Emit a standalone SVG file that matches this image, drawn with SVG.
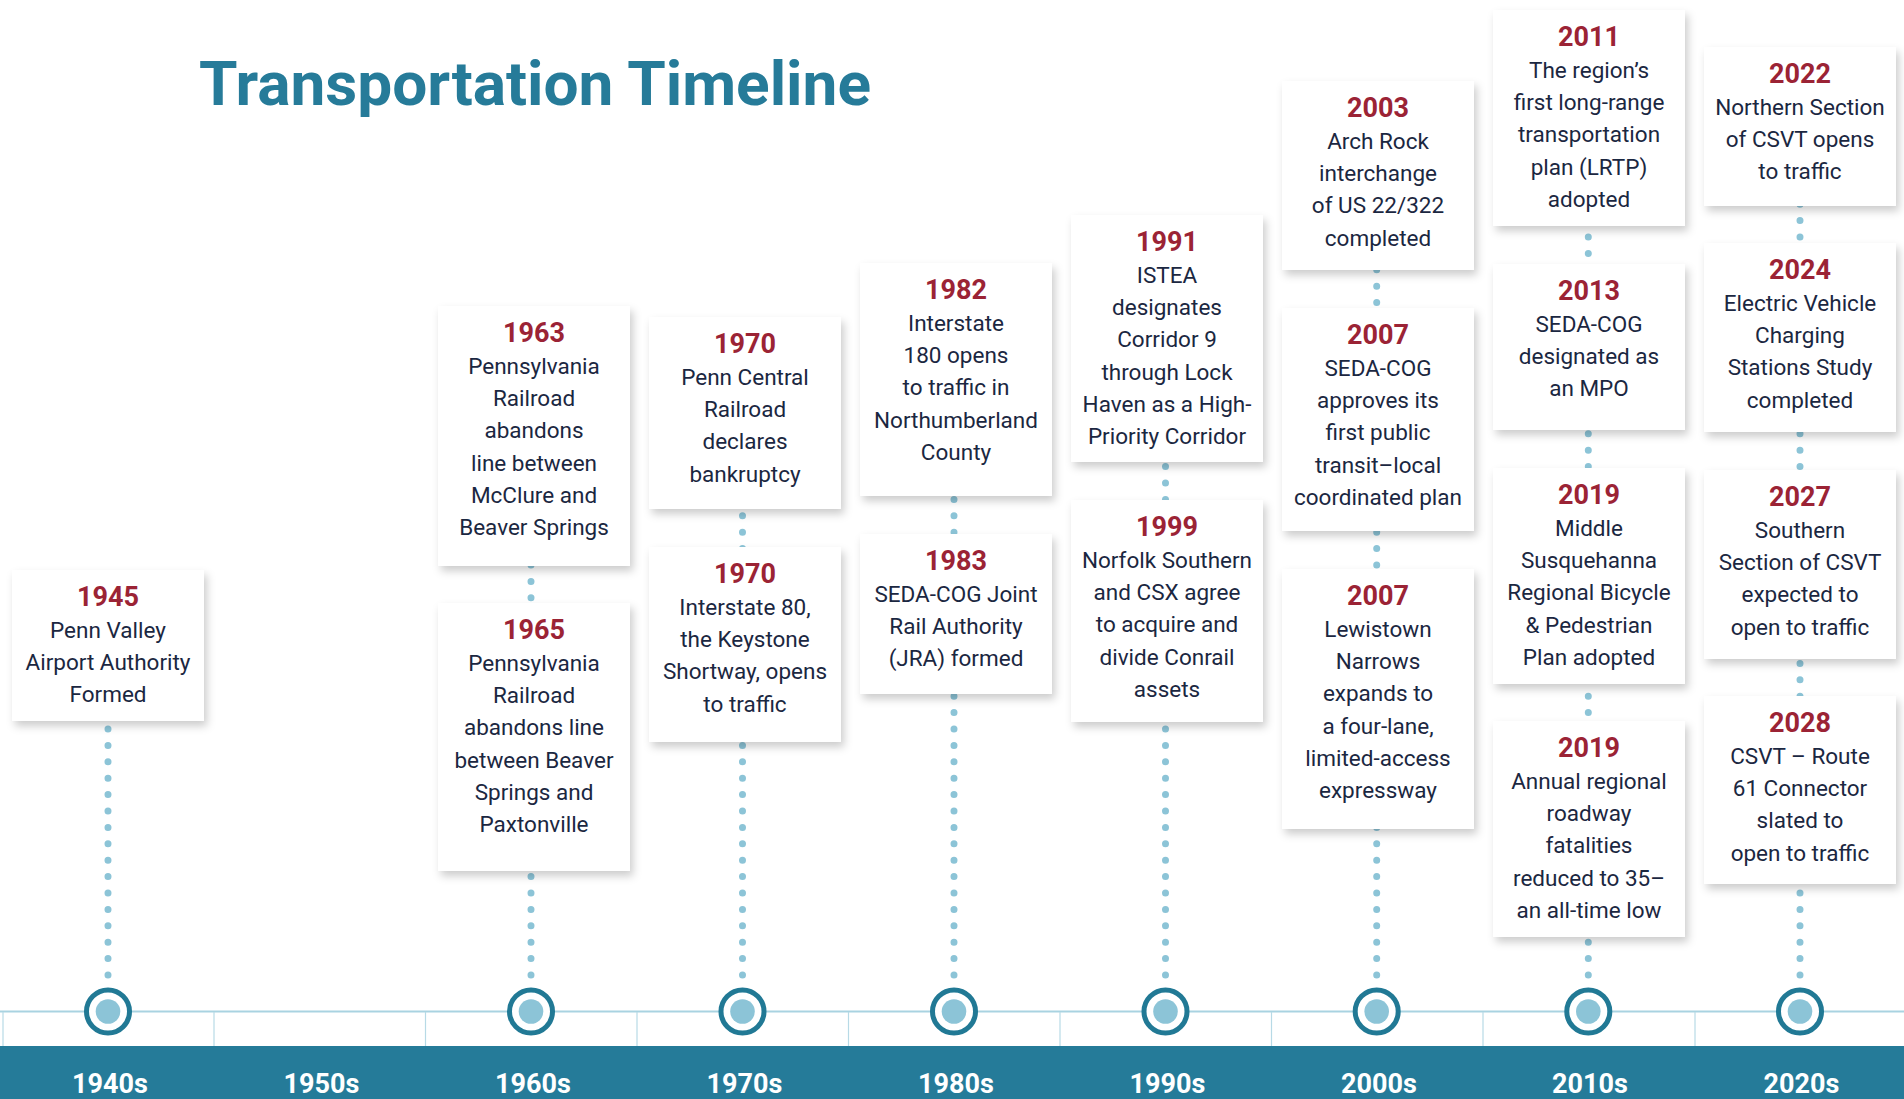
<svg xmlns="http://www.w3.org/2000/svg" width="1904" height="1099" viewBox="0 0 1904 1099">
<style>
.title{font-family:Roboto,"Liberation Sans",sans-serif;font-weight:700;font-size:61px;fill:#267b99}
.box{fill:#fff;filter:url(#sh)}
.yr{font-family:Roboto,"Liberation Sans",sans-serif;font-weight:700;font-size:27px;fill:#9b2335;text-anchor:middle}
.tx{font-family:Roboto,"Liberation Sans",sans-serif;font-size:22.5px;fill:#1b2741;text-anchor:middle}
.dot{fill:none;stroke:#8cc4d7;stroke-width:7;stroke-linecap:round;stroke-dasharray:0 16.4}
.ring{fill:#fff;stroke:#217995;stroke-width:5}
.core{fill:#8cc4d7}
.sep{stroke:#b7dae6;stroke-width:1.2}
.dec{font-family:Roboto,"Liberation Sans",sans-serif;font-weight:700;font-size:27px;fill:#fff;text-anchor:middle}
</style>
<defs>
<filter id="sh" x="-20%" y="-20%" width="140%" height="140%">
<feDropShadow dx="3" dy="5" stdDeviation="4" flood-color="#000" flood-opacity="0.2"/>
</filter>
</defs>
<rect width="1904" height="1099" fill="#fff"/>
<text class="title" x="199" y="105" textLength="672" lengthAdjust="spacingAndGlyphs">Transportation Timeline</text>

<g id="axis">
<line x1="0" y1="1011.5" x2="1904" y2="1011.5" stroke="#a9d3e1" stroke-width="2"/>
<g class="sep">
<line x1="3" y1="1012" x2="3" y2="1046"/>
<line x1="214" y1="1012" x2="214" y2="1046"/>
<line x1="425.5" y1="1012" x2="425.5" y2="1046"/>
<line x1="637" y1="1012" x2="637" y2="1046"/>
<line x1="848.5" y1="1012" x2="848.5" y2="1046"/>
<line x1="1060" y1="1012" x2="1060" y2="1046"/>
<line x1="1271.5" y1="1012" x2="1271.5" y2="1046"/>
<line x1="1483" y1="1012" x2="1483" y2="1046"/>
<line x1="1695" y1="1012" x2="1695" y2="1046"/>
</g>
<rect x="0" y="1046" width="1904" height="53" fill="#257b99"/>
<text class="dec" x="110" y="1093">1940s</text>
<text class="dec" x="321.5" y="1093">1950s</text>
<text class="dec" x="533" y="1093">1960s</text>
<text class="dec" x="744.5" y="1093">1970s</text>
<text class="dec" x="956" y="1093">1980s</text>
<text class="dec" x="1167.5" y="1093">1990s</text>
<text class="dec" x="1379" y="1093">2000s</text>
<text class="dec" x="1590" y="1093">2010s</text>
<text class="dec" x="1801.5" y="1093">2020s</text>
</g>

<g id="connectors">
<path class="dot" d="M108 975V580"/>
<path class="dot" d="M531 975V316"/>
<path class="dot" d="M742.5 975V327"/>
<path class="dot" d="M954 975V273"/>
<path class="dot" d="M1165.5 975V225"/>
<path class="dot" d="M1376.7 975V91"/>
<path class="dot" d="M1588.3 975V20"/>
<path class="dot" d="M1800 975V57"/>
</g>

<g id="markers">
<g id="m1940"><circle class="ring" cx="108" cy="1011.5" r="21.5"/><circle class="core" cx="108" cy="1011.5" r="12.3"/></g>
<g id="m1960"><circle class="ring" cx="531" cy="1011.5" r="21.5"/><circle class="core" cx="531" cy="1011.5" r="12.3"/></g>
<g id="m1970"><circle class="ring" cx="742.5" cy="1011.5" r="21.5"/><circle class="core" cx="742.5" cy="1011.5" r="12.3"/></g>
<g id="m1980"><circle class="ring" cx="954" cy="1011.5" r="21.5"/><circle class="core" cx="954" cy="1011.5" r="12.3"/></g>
<g id="m1990"><circle class="ring" cx="1165.5" cy="1011.5" r="21.5"/><circle class="core" cx="1165.5" cy="1011.5" r="12.3"/></g>
<g id="m2000"><circle class="ring" cx="1376.7" cy="1011.5" r="21.5"/><circle class="core" cx="1376.7" cy="1011.5" r="12.3"/></g>
<g id="m2010"><circle class="ring" cx="1588.3" cy="1011.5" r="21.5"/><circle class="core" cx="1588.3" cy="1011.5" r="12.3"/></g>
<g id="m2020"><circle class="ring" cx="1800" cy="1011.5" r="21.5"/><circle class="core" cx="1800" cy="1011.5" r="12.3"/></g>
</g>

<g id="e1945"><rect class="box" x="12" y="570" width="192" height="151"/>
<text class="yr" x="108" y="605.5">1945</text>
<text class="tx"><tspan x="108" y="637.75">Penn Valley</tspan><tspan x="108" y="670">Airport Authority</tspan><tspan x="108" y="702.25">Formed</tspan></text></g>

<g id="e1963"><rect class="box" x="438" y="306" width="192" height="260"/>
<text class="yr" x="534" y="341.5">1963</text>
<text class="tx"><tspan x="534" y="373.75">Pennsylvania</tspan><tspan x="534" y="406">Railroad</tspan><tspan x="534" y="438.25">abandons</tspan><tspan x="534" y="470.5">line between</tspan><tspan x="534" y="502.75">McClure and</tspan><tspan x="534" y="535">Beaver Springs</tspan></text></g>

<g id="e1965"><rect class="box" x="438" y="603" width="192" height="268"/>
<text class="yr" x="534" y="638.5">1965</text>
<text class="tx"><tspan x="534" y="670.75">Pennsylvania</tspan><tspan x="534" y="703">Railroad</tspan><tspan x="534" y="735.25">abandons line</tspan><tspan x="534" y="767.5">between Beaver</tspan><tspan x="534" y="799.75">Springs and</tspan><tspan x="534" y="832">Paxtonville</tspan></text></g>

<g id="e1970a"><rect class="box" x="649" y="317" width="192" height="192"/>
<text class="yr" x="745" y="352.5">1970</text>
<text class="tx"><tspan x="745" y="384.75">Penn Central</tspan><tspan x="745" y="417">Railroad</tspan><tspan x="745" y="449.25">declares</tspan><tspan x="745" y="481.5">bankruptcy</tspan></text></g>

<g id="e1970b"><rect class="box" x="649" y="547" width="192" height="195"/>
<text class="yr" x="745" y="582.5">1970</text>
<text class="tx"><tspan x="745" y="614.75">Interstate 80,</tspan><tspan x="745" y="647">the Keystone</tspan><tspan x="745" y="679.25">Shortway, opens</tspan><tspan x="745" y="711.5">to traffic</tspan></text></g>

<g id="e1982"><rect class="box" x="860" y="263" width="192" height="233"/>
<text class="yr" x="956" y="298.5">1982</text>
<text class="tx"><tspan x="956" y="330.75">Interstate</tspan><tspan x="956" y="363">180 opens</tspan><tspan x="956" y="395.25">to traffic in</tspan><tspan x="956" y="427.5">Northumberland</tspan><tspan x="956" y="459.75">County</tspan></text></g>

<g id="e1983"><rect class="box" x="860" y="534" width="192" height="160"/>
<text class="yr" x="956" y="569.5">1983</text>
<text class="tx"><tspan x="956" y="601.75">SEDA-COG Joint</tspan><tspan x="956" y="634">Rail Authority</tspan><tspan x="956" y="666.25">(JRA) formed</tspan></text></g>

<g id="e1991"><rect class="box" x="1071" y="215" width="192" height="247"/>
<text class="yr" x="1167" y="250.5">1991</text>
<text class="tx"><tspan x="1167" y="282.75">ISTEA</tspan><tspan x="1167" y="315">designates</tspan><tspan x="1167" y="347.25">Corridor 9</tspan><tspan x="1167" y="379.5">through Lock</tspan><tspan x="1167" y="411.75">Haven as a High-</tspan><tspan x="1167" y="444">Priority Corridor</tspan></text></g>

<g id="e1999"><rect class="box" x="1071" y="500" width="192" height="222"/>
<text class="yr" x="1167" y="535.5">1999</text>
<text class="tx"><tspan x="1167" y="567.75">Norfolk Southern</tspan><tspan x="1167" y="600">and CSX agree</tspan><tspan x="1167" y="632.25">to acquire and</tspan><tspan x="1167" y="664.5">divide Conrail</tspan><tspan x="1167" y="696.75">assets</tspan></text></g>

<g id="e2003"><rect class="box" x="1282" y="81" width="192" height="189"/>
<text class="yr" x="1378" y="116.5">2003</text>
<text class="tx"><tspan x="1378" y="148.75">Arch Rock</tspan><tspan x="1378" y="181">interchange</tspan><tspan x="1378" y="213.25">of US 22/322</tspan><tspan x="1378" y="245.5">completed</tspan></text></g>

<g id="e2007a"><rect class="box" x="1282" y="308" width="192" height="223"/>
<text class="yr" x="1378" y="343.5">2007</text>
<text class="tx"><tspan x="1378" y="375.75">SEDA-COG</tspan><tspan x="1378" y="408">approves its</tspan><tspan x="1378" y="440.25">first public</tspan><tspan x="1378" y="472.5">transit–local</tspan><tspan x="1378" y="504.75">coordinated plan</tspan></text></g>

<g id="e2007b"><rect class="box" x="1282" y="569" width="192" height="260"/>
<text class="yr" x="1378" y="604.5">2007</text>
<text class="tx"><tspan x="1378" y="636.75">Lewistown</tspan><tspan x="1378" y="669">Narrows</tspan><tspan x="1378" y="701.25">expands to</tspan><tspan x="1378" y="733.5">a four-lane,</tspan><tspan x="1378" y="765.75">limited-access</tspan><tspan x="1378" y="798">expressway</tspan></text></g>

<g id="e2011"><rect class="box" x="1493" y="10" width="192" height="216"/>
<text class="yr" x="1589" y="45.5">2011</text>
<text class="tx"><tspan x="1589" y="77.75">The region’s</tspan><tspan x="1589" y="110">first long-range</tspan><tspan x="1589" y="142.25">transportation</tspan><tspan x="1589" y="174.5">plan (LRTP)</tspan><tspan x="1589" y="206.75">adopted</tspan></text></g>

<g id="e2013"><rect class="box" x="1493" y="264" width="192" height="166"/>
<text class="yr" x="1589" y="299.5">2013</text>
<text class="tx"><tspan x="1589" y="331.75">SEDA-COG</tspan><tspan x="1589" y="364">designated as</tspan><tspan x="1589" y="396.25">an MPO</tspan></text></g>

<g id="e2019a"><rect class="box" x="1493" y="468" width="192" height="216"/>
<text class="yr" x="1589" y="503.5">2019</text>
<text class="tx"><tspan x="1589" y="535.75">Middle</tspan><tspan x="1589" y="568">Susquehanna</tspan><tspan x="1589" y="600.25">Regional Bicycle</tspan><tspan x="1589" y="632.5">&amp; Pedestrian</tspan><tspan x="1589" y="664.75">Plan adopted</tspan></text></g>

<g id="e2019b"><rect class="box" x="1493" y="721" width="192" height="216"/>
<text class="yr" x="1589" y="756.5">2019</text>
<text class="tx"><tspan x="1589" y="788.75">Annual regional</tspan><tspan x="1589" y="821">roadway</tspan><tspan x="1589" y="853.25">fatalities</tspan><tspan x="1589" y="885.5">reduced to 35–</tspan><tspan x="1589" y="917.75">an all-time low</tspan></text></g>

<g id="e2022"><rect class="box" x="1704" y="47" width="192" height="159"/>
<text class="yr" x="1800" y="82.5">2022</text>
<text class="tx"><tspan x="1800" y="114.75">Northern Section</tspan><tspan x="1800" y="147">of CSVT opens</tspan><tspan x="1800" y="179.25">to traffic</tspan></text></g>

<g id="e2024"><rect class="box" x="1704" y="243" width="192" height="189"/>
<text class="yr" x="1800" y="278.5">2024</text>
<text class="tx"><tspan x="1800" y="310.75">Electric Vehicle</tspan><tspan x="1800" y="343">Charging</tspan><tspan x="1800" y="375.25">Stations Study</tspan><tspan x="1800" y="407.5">completed</tspan></text></g>

<g id="e2027"><rect class="box" x="1704" y="470" width="192" height="189"/>
<text class="yr" x="1800" y="505.5">2027</text>
<text class="tx"><tspan x="1800" y="537.75">Southern</tspan><tspan x="1800" y="570">Section of CSVT</tspan><tspan x="1800" y="602.25">expected to</tspan><tspan x="1800" y="634.5">open to traffic</tspan></text></g>

<g id="e2028"><rect class="box" x="1704" y="696" width="192" height="188"/>
<text class="yr" x="1800" y="731.5">2028</text>
<text class="tx"><tspan x="1800" y="763.75">CSVT – Route</tspan><tspan x="1800" y="796">61 Connector</tspan><tspan x="1800" y="828.25">slated to</tspan><tspan x="1800" y="860.5">open to traffic</tspan></text></g>
</svg>
